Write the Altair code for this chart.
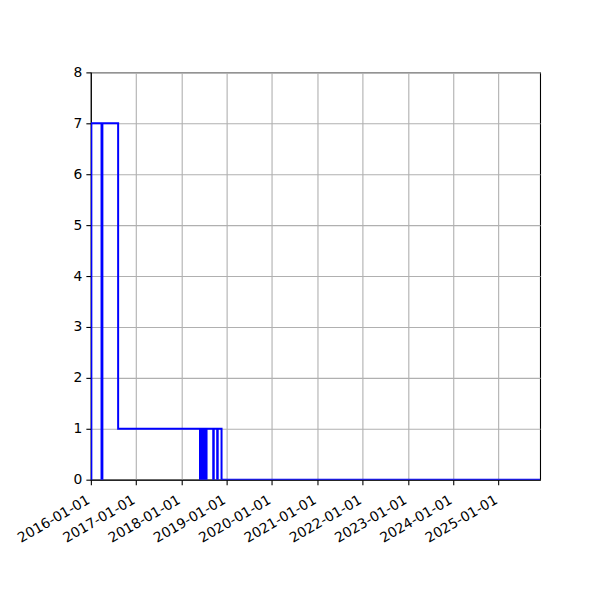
import altair as alt
import pandas as pd

dates = [
    "2016-01-01", "2016-01-05", "2016-03-27", "2016-04-03", "2016-08-08",
    "2018-05-30", "2018-06-02", "2018-06-04", "2018-06-07", "2018-06-09",
    "2018-06-12", "2018-06-14", "2018-06-17", "2018-06-19", "2018-06-22",
    "2018-06-24", "2018-06-27", "2018-06-29", "2018-07-02", "2018-07-04",
    "2018-07-07", "2018-07-09", "2018-07-12", "2018-07-14", "2018-07-17",
    "2018-07-19", "2018-07-22",
    "2018-09-14", "2018-09-18", "2018-10-16", "2018-10-20",
    "2018-11-20", "2025-12-02",
]
values = [
    0, 7, 0, 7, 1,
    0, 1, 0, 1, 0,
    1, 0, 1, 0, 1,
    0, 1, 0, 1, 0,
    1, 0, 1, 0, 1,
    0, 1,
    0, 1, 0, 1,
    0, 0,
]
tick_years = list(range(2016, 2026))
y_ticks = list(range(0, 9))

df = pd.DataFrame({"date": dates, "value": values})

font = "DejaVu Sans"

chart = alt.Chart(df).mark_line(
    interpolate="step-after", color="#0000ff", strokeWidth=2, clip=True
).encode(
    x=alt.X(
        "date:T",
        scale=alt.Scale(
            type="utc",
            domain=[alt.DateTime(year=2016, month=1, date=1, utc=True),
                    alt.DateTime(year=2025, month=12, date=2, utc=True)],
            nice=False,
        ),
        axis=alt.Axis(
            values=[alt.DateTime(year=y, month=1, date=1, utc=True) for y in tick_years],
            labelExpr="utcFormat(datum.value, '%Y-%m-%d')",
            labelAngle=330,
            labelAlign="right",
            labelBaseline="top",
            labelPadding=8,
            labelOffset=-6,
            labelOverlap=False,
            title=None,
        ),
    ),
    y=alt.Y(
        "value:Q",
        scale=alt.Scale(domain=[0, 8], nice=False, zero=False),
        axis=alt.Axis(values=y_ticks, title=None, labelPadding=4),
    ),
).properties(
    width=450,
    height=408,
    autosize=alt.AutoSizeParams(type="none"),
    padding={"left": 83, "top": 64, "right": 52, "bottom": 112},
    background="white",
).configure_view(
    stroke="black", strokeWidth=1.1
).configure_axis(
    grid=True,
    gridColor="#b0b0b0",
    gridWidth=1.1,
    domainColor="black",
    domainWidth=1.1,
    tickColor="black",
    tickWidth=1.1,
    tickSize=5,
    labelFont=font,
    labelFontSize=13.9,
    labelColor="black",
)

chart.save("out.html", embed_options={"renderer": "svg", "actions": False})
